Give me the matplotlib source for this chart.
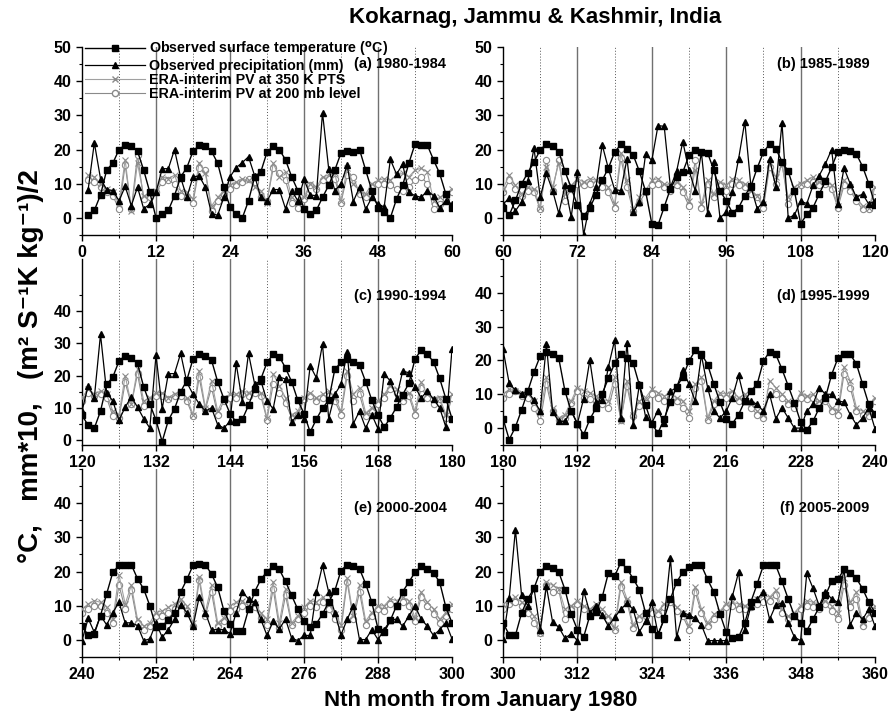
import matplotlib
matplotlib.use("Agg")
import matplotlib.pyplot as plt
import numpy as np
from matplotlib.ticker import MultipleLocator

plt.rcParams['font.family'] = ['Liberation Sans', 'DejaVu Sans']
plt.rcParams['font.weight'] = 'bold'

# Observed surface temperature (deg C), months 1..360 (one row per year)
temperature = [
    0.8, 2.2, 6.7, 14.0, 16.0, 20.0, 21.3, 21.1, 19.5, 14.0, 7.5, 0.0,
    1.0, 2.2, 6.5, 12.0, 14.7, 19.5, 21.2, 21.0, 19.5, 16.0, 9.0, 3.2,
    1.0, 0.0, 5.0, 12.0, 13.5, 19.2, 21.0, 20.0, 17.0, 12.0, 8.0, 2.7,
    1.2, 2.2, 6.0, 9.5, 14.0, 19.0, 19.5, 19.2, 20.0, 14.0, 8.0, 3.0,
    1.7, 0.0, 5.5, 9.5, 16.0, 21.6, 21.3, 21.3, 17.0, 13.0, 7.0, 3.0,
    0.8, 5.1, 10.0, 13.2, 16.3, 19.9, 21.6, 21.0, 19.4, 13.6, 8.8, 3.7,
    0.5, 2.9, 6.8, 11.0, 14.6, 19.2, 21.5, 20.2, 18.4, 13.6, 7.8, -1.7,
    -2.1, 3.2, 8.5, 12.0, 13.4, 18.3, 20.0, 19.2, 19.0, 14.0, 8.0, 5.0,
    1.5, 3.0, 6.5, 9.3, 14.6, 19.2, 21.6, 20.2, 16.5, 13.6, 8.0, -1.7,
    1.0, 3.0, 7.0, 10.7, 14.8, 19.4, 20.0, 19.7, 18.7, 15.0, 10.0, 3.8,
    0.8, 0.0, 5.0, 12.9, 15.1, 19.8, 21.4, 20.6, 19.1, 12.2, 7.2, 2.3,
    -4.0, 2.3, 5.7, 10.7, 14.2, 20.4, 21.8, 21.3, 20.1, 13.7, 8.7, 4.3,
    1.8, 2.6, 6.7, 11.7, 14.5, 19.4, 21.8, 21.1, 17.8, 13.7, 8.2, 4.3,
    -1.2, 2.6, 5.9, 8.2, 17.4, 19.4, 20.4, 19.6, 18.6, 13.7, 8.2, 3.8,
    0.3, 3.0, 6.2, 9.9, 13.2, 20.4, 23.1, 21.8, 19.6, 14.7, 8.7, 2.8,
    -3.4, 0.3, 5.4, 10.9, 16.6, 21.3, 22.6, 21.9, 20.6, 10.9, 5.0, 1.3,
    -2.0, 2.6, 5.9, 10.2, 14.7, 19.1, 21.8, 20.6, 19.1, 12.7, 6.7, 1.3,
    -1.5, 2.8, 7.7, 12.2, 15.1, 19.8, 23.0, 22.0, 18.8, 13.0, 7.7, 2.8,
    1.3, 4.0, 8.0, 11.0, 13.0, 19.8, 22.6, 21.8, 17.4, 12.5, 7.5, 1.8,
    -0.5, 2.0, 6.0, 9.0, 15.8, 20.6, 22.0, 21.8, 19.0, 13.0, 7.0, 4.2,
    1.3, 1.8, 7.1, 13.5, 19.8, 21.8, 22.0, 22.0, 17.9, 14.9, 10.0, 3.7,
    4.0, 5.9, 8.0, 14.0, 17.7, 21.8, 22.2, 22.0, 19.3, 15.4, 8.6, 4.7,
    2.5, 2.5, 8.9, 14.1, 17.7, 20.0, 21.5, 20.6, 17.1, 13.0, 8.9, 5.4,
    3.7, 4.7, 7.6, 11.0, 14.4, 20.3, 22.0, 21.5, 20.8, 16.4, 11.0, 3.2,
    2.2, 5.7, 10.0, 14.1, 16.9, 19.8, 21.5, 20.8, 19.6, 16.9, 9.6, 5.0,
    1.5, 1.3, 7.9, 12.0, 15.1, 20.0, 21.6, 21.0, 19.8, 14.7, 7.5, 3.0,
    0.8, 7.1, 8.3, 12.5, 19.6, 18.6, 22.7, 20.8, 17.9, 14.7, 7.9, 3.2,
    1.3, 6.3, 12.0, 16.9, 19.8, 21.3, 21.8, 21.8, 17.7, 14.0, 7.6, 2.2,
    0.5, 0.8, 5.0, 11.2, 16.4, 21.8, 21.8, 21.8, 17.1, 12.0, 7.1, 5.0,
    2.7, 6.1, 9.6, 13.0, 17.1, 17.7, 20.6, 19.6, 18.0, 15.0, 11.0, 8.0,
]

# Observed precipitation (mm, plotted as shown)
precipitation = [
    8.3, 22.0, 11.5, 8.3, 8.0, 5.0, 9.2, 3.6, 9.0, 2.7, 4.0, 7.5,
    14.4, 14.4, 20.0, 11.8, 6.0, 12.0, 12.3, 9.0, 1.2, 0.8, 6.0, 12.0,
    14.7, 16.2, 17.9, 12.3, 6.0, 4.9, 8.3, 8.3, 2.7, 8.0, 5.0, 11.3,
    6.7, 6.5, 30.8, 14.4, 8.0, 10.0, 15.4, 4.8, 9.0, 2.5, 6.0, 4.0,
    3.2, 17.1, 12.8, 15.7, 7.5, 6.5, 6.0, 8.0, 6.5, 3.0, 5.0, 4.0,
    5.8, 2.0, 4.7, 10.7, 20.4, 6.1, 13.0, 8.0, 1.3, 9.5, 0.3, 13.4,
    -5.0, 4.2, 9.0, 21.4, 14.4, 8.3, 8.0, 17.3, 1.7, 4.7, 18.7, 16.8,
    27.0, 26.8, 9.0, 13.6, 22.3, 13.9, 8.0, 19.2, 1.3, 16.5, 0.0, 1.7,
    7.6, 17.3, 28.2, 9.0, 2.7, 4.7, 17.3, 9.0, 27.8, 0.0, 0.8, 4.9,
    4.2, 9.5, 12.4, 15.8, 20.0, 4.2, 14.6, 10.0, 6.0, 7.0, 4.0, 5.0,
    12.5, 9.0, 27.7, 10.5, 8.0, 2.3, 6.2, 9.2, 6.2, 2.8, 0.0, 21.6,
    5.7, 16.1, 16.1, 22.1, 13.5, 10.0, 7.2, 5.0, 6.0, 1.0, 0.0, 2.0,
    19.1, 7.7, 22.1, 13.0, 14.0, 8.0, 5.7, 15.1, 14.5, 1.8, 4.0, 2.8,
    18.4, 14.9, 24.8, 2.8, 10.0, 12.9, 22.6, 1.3, 5.0, 0.0, 4.0, -0.2,
    16.1, 13.9, 9.0, 16.8, 16.4, 12.2, 8.9, 11.0, 8.5, 6.0, 0.3, 23.4,
    13.2, 11.2, 10.0, 10.9, 8.2, 5.0, 24.8, 4.8, 2.0, 2.0, 5.2, 1.3,
    8.7, 20.1, 7.7, 8.2, 18.1, 26.0, 3.0, 25.3, 0.8, 12.9, 3.3, 1.5,
    5.2, 1.5, 10.9, 12.0, 17.1, 13.0, 8.0, 21.6, 12.0, 5.0, 3.0, 5.0,
    9.0, 15.6, 8.0, 8.0, 7.0, 5.0, 10.0, 2.8, 6.0, 3.0, 0.0, 0.0,
    5.0, 7.0, 12.0, 10.0, 10.0, 8.0, 7.7, 4.0, 1.0, 3.0, 6.0, -0.2,
    6.3, 2.2, 7.1, 4.4, 8.0, 11.0, 5.0, 5.0, 4.2, -0.2, 0.3, 5.0,
    0.8, 3.0, 6.0, 10.2, 8.0, 4.0, 12.5, 8.0, 3.0, 3.0, 3.0, 1.8,
    8.0, 14.0, 12.0, 11.0, 6.0, 1.3, 5.4, 3.2, 6.1, 0.5, -0.2, 1.3,
    1.3, 14.0, 21.8, 14.0, 8.0, 1.5, 6.0, 10.0, 0.1, 0.1, 3.0, 0.1,
    3.0, 5.7, 6.1, 4.0, 7.0, 9.9, 6.1, 4.0, 1.3, 3.0, 5.0, 0.3,
    12.2, 32.3, 13.0, 10.0, 15.1, 3.0, 15.7, 5.2, 3.7, 0.5, 1.8, -0.2,
    14.4, 8.0, 10.0, 7.3, 4.0, 6.6, 8.9, 10.8, 8.9, 2.4, 5.4, 11.0,
    1.8, 6.0, 23.9, 0.8, 8.0, 7.3, 6.3, 4.4, -0.2, -0.2, -0.2, -0.2,
    12.8, 19.8, 3.0, 10.0, 12.0, 14.0, 6.0, 10.2, 10.8, 5.0, 0.8, -0.2,
    19.6, 15.1, 10.0, 14.1, 12.0, 11.0, 20.6, 4.4, 8.0, 6.0, 9.0, 4.0,
]

# ERA-interim PV at 350 K PTS
pv_350k = [
    12.5, 12.0, 10.0, 8.5, 7.5, 4.0, 17.0, 2.0, 16.0, 6.5, 7.0, 8.0,
    12.0, 11.5, 12.5, 8.0, 7.5, 5.5, 16.2, 13.0, 3.5, 6.0, 8.0, 9.5,
    10.5, 11.5, 11.0, 9.0, 8.0, 4.5, 16.0, 12.0, 13.5, 6.0, 4.5, 6.0,
    10.0, 9.0, 12.0, 12.5, 13.0, 5.0, 14.5, 10.0, 8.0, 7.0, 10.0, 11.0,
    11.5, 11.0, 12.5, 13.0, 12.0, 14.0, 14.5, 13.5, 5.0, 6.0, 7.0, 8.5,
    12.5, 9.5, 7.0, 9.0, 8.5, 3.0, 15.0, 9.0, 16.0, 7.0, 9.5, 11.5,
    10.5, 11.5, 11.0, 10.5, 9.0, 4.0, 19.0, 11.0, 2.5, 6.0, 8.0, 11.0,
    11.5, 10.0, 9.5, 10.5, 9.0, 5.0, 14.0, 4.0, 11.0, 7.0, 10.5, 9.5,
    11.5, 11.0, 10.0, 8.0, 6.5, 4.0, 16.0, 12.0, 15.5, 6.0, 9.0, 10.0,
    11.0, 12.0, 10.5, 11.0, 9.5, 3.5, 11.0, 9.0, 6.0, 3.5, 3.0, 9.0,
    11.5, 10.0, 11.0, 10.0, 5.0, 4.0, 15.5, 7.0, 17.5, 8.0, 9.0, 10.5,
    10.5, 9.0, 10.0, 11.0, 9.0, 4.0, 17.0, 6.0, 14.0, 5.0, 9.0, 10.0,
    10.0, 11.0, 10.5, 11.5, 10.5, 3.0, 16.0, 12.5, 9.0, 4.0, 5.0, 9.0,
    10.5, 9.0, 10.0, 11.0, 9.0, 5.0, 17.0, 10.0, 12.0, 4.5, 6.0, 8.0,
    10.0, 12.5, 11.5, 9.0, 10.5, 5.0, 13.5, 10.0, 8.5, 9.0, 4.0, 10.0,
    11.5, 11.0, 10.5, 10.0, 8.0, 4.5, 15.0, 6.0, 3.0, 4.0, 8.0, 12.0,
    11.0, 10.5, 9.5, 8.5, 8.0, 15.0, 2.0, 14.0, 4.0, 8.0, 9.0, 11.5,
    10.5, 9.5, 10.0, 9.0, 8.0, 5.0, 13.0, 15.0, 3.0, 8.0, 10.5, 10.0,
    11.0, 9.0, 10.0, 7.0, 5.0, 4.0, 14.0, 12.0, 10.0, 8.0, 7.0, 10.5,
    9.5, 10.0, 8.0, 9.0, 6.0, 5.0, 18.0, 14.0, 6.0, 5.0, 4.5, 9.0,
    10.5, 11.5, 11.0, 9.5, 6.0, 19.0, 10.5, 16.0, 6.0, 4.0, 5.0, 8.0,
    8.5, 9.5, 10.5, 12.0, 10.0, 5.0, 18.5, 8.0, 16.0, 5.0, 6.5, 10.0,
    11.0, 11.5, 10.0, 10.5, 8.0, 6.0, 17.0, 5.0, 15.0, 5.0, 7.0, 9.5,
    11.5, 11.0, 12.5, 10.5, 7.5, 4.5, 18.0, 7.0, 16.0, 5.5, 8.0, 10.0,
    10.0, 12.0, 11.5, 12.5, 11.5, 6.5, 14.0, 11.0, 9.0, 6.0, 8.0, 10.5,
    11.5, 12.5, 11.0, 9.0, 7.0, 2.0, 17.0, 16.0, 15.0, 9.0, 10.0, 11.5,
    10.0, 9.0, 10.5, 9.0, 7.0, 3.5, 17.0, 12.0, 4.5, 7.0, 8.5, 9.0,
    8.5, 10.5, 12.0, 9.5, 8.0, 4.0, 15.5, 9.0, 5.0, 7.5, 8.5, 10.5,
    11.0, 10.5, 10.0, 11.0, 12.0, 13.0, 12.5, 14.5, 9.0, 7.0, 8.0, 10.0,
    11.5, 11.0, 10.5, 11.5, 10.0, 8.0, 18.0, 11.0, 14.0, 5.0, 7.5, 10.0,
]

# ERA-interim PV at 200 mb level
pv_200mb = [
    11.0, 10.5, 9.0, 7.5, 6.5, 2.5, 15.5, 2.5, 18.5, 5.5, 6.0, 7.5,
    10.5, 11.0, 10.0, 6.5, 6.0, 4.5, 14.5, 14.0, 2.0, 5.0, 7.0, 8.5,
    9.5, 10.5, 11.5, 10.5, 6.0, 5.0, 14.5, 13.0, 11.0, 4.5, 3.0, 5.5,
    9.5, 8.5, 11.0, 11.5, 11.5, 4.5, 12.5, 12.0, 7.0, 6.0, 9.0, 10.0,
    10.0, 9.5, 8.5, 8.0, 9.0, 11.0, 12.0, 10.0, 2.5, 4.0, 5.5, 7.5,
    11.0, 8.5, 6.5, 8.0, 7.5, 2.5, 17.0, 8.0, 17.0, 5.0, 8.5, 10.0,
    9.5, 10.0, 10.0, 9.0, 7.5, 3.0, 17.5, 9.0, 2.0, 4.5, 7.5, 9.5,
    10.0, 9.0, 8.0, 9.5, 7.5, 3.5, 17.0, 3.0, 10.0, 6.0, 9.5, 8.0,
    10.0, 9.5, 9.0, 7.0, 6.0, 3.0, 15.0, 10.0, 16.0, 4.0, 8.0, 9.5,
    10.0, 10.5, 9.5, 10.0, 8.5, 3.0, 9.5, 8.0, 5.0, 2.5, 2.5, 8.0,
    10.5, 9.5, 10.0, 9.0, 3.5, 3.0, 13.5, 7.0, 16.0, 6.5, 8.0, 9.5,
    9.5, 8.5, 9.5, 9.5, 8.0, 3.5, 15.0, 5.5, 12.0, 4.0, 8.0, 9.0,
    9.0, 10.0, 9.5, 10.5, 9.5, 2.5, 13.0, 10.5, 7.5, 3.0, 4.0, 8.5,
    9.5, 8.0, 9.0, 9.5, 8.0, 4.0, 15.5, 8.0, 10.0, 3.5, 5.0, 7.0,
    9.0, 11.5, 10.5, 8.0, 9.5, 4.0, 12.0, 9.0, 7.0, 8.5, 3.0, 9.0,
    10.0, 11.0, 9.5, 9.0, 6.0, 2.0, 13.0, 5.0, 2.5, 3.0, 7.5, 11.0,
    9.0, 8.5, 8.0, 7.0, 6.0, 13.0, 2.5, 12.5, 3.5, 6.5, 7.5, 10.0,
    9.0, 8.0, 9.0, 8.0, 6.0, 3.0, 12.0, 14.0, 2.5, 7.0, 9.0, 9.0,
    10.0, 8.0, 8.5, 6.0, 4.0, 3.0, 11.0, 10.0, 9.0, 7.0, 6.0, 9.0,
    8.5, 9.0, 7.0, 8.0, 5.0, 4.0, 16.0, 12.0, 5.0, 4.0, 3.5, 8.0,
    9.0, 10.0, 10.0, 8.0, 5.0, 16.0, 9.0, 14.5, 5.0, 3.0, 4.0, 7.0,
    7.0, 8.0, 9.0, 10.5, 8.5, 4.0, 17.5, 7.0, 14.0, 4.0, 5.5, 8.5,
    9.0, 10.0, 9.0, 9.5, 6.5, 4.5, 15.0, 3.5, 13.0, 4.5, 6.0, 8.0,
    10.0, 9.5, 11.0, 9.0, 6.0, 3.0, 17.0, 6.0, 14.0, 4.5, 7.0, 9.0,
    8.5, 10.5, 10.0, 11.0, 10.0, 5.5, 12.5, 10.0, 7.5, 5.0, 7.0, 9.0,
    10.5, 11.0, 10.0, 8.0, 5.0, 2.0, 16.0, 14.0, 14.5, 6.0, 9.0, 10.5,
    9.0, 8.0, 9.5, 8.0, 6.0, 3.0, 15.5, 11.0, 3.5, 6.0, 7.0, 8.0,
    7.5, 9.5, 11.0, 8.5, 7.0, 3.0, 14.0, 8.0, 4.0, 6.0, 7.5, 9.5,
    10.0, 9.0, 9.0, 9.5, 10.5, 11.0, 11.5, 13.0, 8.0, 6.0, 7.0, 9.0,
    10.0, 9.5, 9.0, 10.5, 8.5, 6.0, 16.0, 9.5, 12.0, 4.0, 6.5, 8.5,
]

panel_labels = ["(a) 1980-1984", "(b) 1985-1989", "(c) 1990-1994",
                "(d) 1995-1999", "(e) 2000-2004", "(f) 2005-2009"]
series_labels = ["Observed surface temperature ($^{\\mathbf{o}}$C)",
                 "Observed precipitation (mm)",
                 "ERA-interim PV at 350 K PTS",
                 "ERA-interim PV at 200 mb level"]
tick_values_top = [0, 10, 20, 30, 40, 50]
tick_values = [0, 10, 20, 30, 40]

months = np.arange(1, 361)
temp = np.array(temperature)
prec = np.array(precipitation)
pv1 = np.array(pv_350k)
pv2 = np.array(pv_200mb)

fig = plt.figure(figsize=(8.9, 7.2), dpi=100)
W, H = 890.0, 720.0
cols = [(82, 452), (503, 875)]
rows = [(47, 235), (259, 445), (469, 657)]
label_y = [0.91, 0.80, 0.79]

for i in range(6):
    r, c = divmod(i, 2)
    x0, x1 = cols[c]
    y0, y1 = rows[r]
    ax = fig.add_axes([x0 / W, 1 - y1 / H, (x1 - x0) / W, (y1 - y0) / H])
    start = i * 60
    sel = (months >= max(start, 1)) & (months <= start + 60)
    m = months[sel]
    for k in range(1, 5):
        ax.axvline(start + 12 * k, color='#707070', lw=1.0, zorder=1)
    for k in range(5):
        ax.axvline(start + 6 + 12 * k, color='#555555', lw=0.7, ls=(0, (1, 2)), zorder=1)
    ax.plot(m, pv2[sel], color='#8a8a8a', lw=0.8, marker='o', ms=4.5,
            mfc='white', mec='#8a8a8a', mew=0.8, zorder=2)
    ax.plot(m, pv1[sel], color='#a0a0a0', lw=0.8, marker='x', ms=4.8,
            mec='#8a8a8a', mew=0.8, zorder=3)
    ax.plot(m, prec[sel], color='black', lw=0.9, marker='^', ms=5, zorder=4)
    ax.plot(m, temp[sel], color='black', lw=1.0, marker='s', ms=4.3, zorder=5)

    ax.set_xlim(start, start + 60)
    ax.set_ylim(-5, 50)
    ax.set_xticks(np.arange(start, start + 61, 12))
    ax.xaxis.set_minor_locator(MultipleLocator(6))
    if r == 0:
        ax.set_yticks(tick_values_top)
        ax.yaxis.set_minor_locator(MultipleLocator(5))
    elif i == 2:
        # this panel's tick labels sit lower than the data scale in the original figure
        pos = [-3.6 + 0.957 * v for v in tick_values]
        ax.set_yticks(pos)
        ax.set_yticklabels([str(v) for v in tick_values])
        ax.set_yticks([p + 0.957 * 5 for p in pos] + [p - 0.957 * 5 for p in pos if p - 0.957 * 5 > -5],
                      minor=True)
    else:
        ax.set_yticks(tick_values)
        ax.yaxis.set_minor_locator(MultipleLocator(5))
    for s in ['top', 'right']:
        ax.spines[s].set_visible(False)
    for s in ['left', 'bottom']:
        ax.spines[s].set_linewidth(1.0)
    ax.tick_params(axis='both', which='major', labelsize=11.5, length=4, width=1, direction='out')
    ax.tick_params(axis='both', which='minor', length=2.5, width=0.8, direction='out')
    for lab in ax.get_xticklabels() + ax.get_yticklabels():
        lab.set_fontweight('bold')
    ax.text(0.985, label_y[r], panel_labels[i], transform=ax.transAxes,
            ha='right', va='center', fontsize=10.5, fontweight='bold')
    if i == 0:
        handles = [
            plt.Line2D([], [], color='black', lw=1.0, marker='s', ms=4.5),
            plt.Line2D([], [], color='black', lw=0.9, marker='^', ms=5),
            plt.Line2D([], [], color='#a0a0a0', lw=0.8, marker='x', ms=4.8, mec='#8a8a8a'),
            plt.Line2D([], [], color='#8a8a8a', lw=0.8, marker='o', ms=4.5, mfc='white', mec='#8a8a8a'),
        ]
        leg = ax.legend(handles, series_labels, loc='upper left', bbox_to_anchor=(0.0, 1.055),
                        frameon=False, prop={'size': 10.3, 'weight': 'bold'},
                        handlelength=4.2, handletextpad=0.3, labelspacing=0.0,
                        borderaxespad=0.0, borderpad=0.2)

fig.text(0.601, 0.975, "Kokarnag, Jammu & Kashmir, India", ha='center', va='center',
         fontsize=16, fontweight='bold')
fig.text(0.035, 0.492, "\u00b0C,   mm*10,   (m\u00b2 S\u207b\u00b9K kg\u207b\u00b9)/2", rotation=90,
         ha='center', va='center', fontsize=20, fontweight='bold')
fig.text(0.54, 0.027, "Nth month from January 1980", ha='center', va='center',
         fontsize=16, fontweight='bold')

fig.savefig("out.png", dpi=100)
